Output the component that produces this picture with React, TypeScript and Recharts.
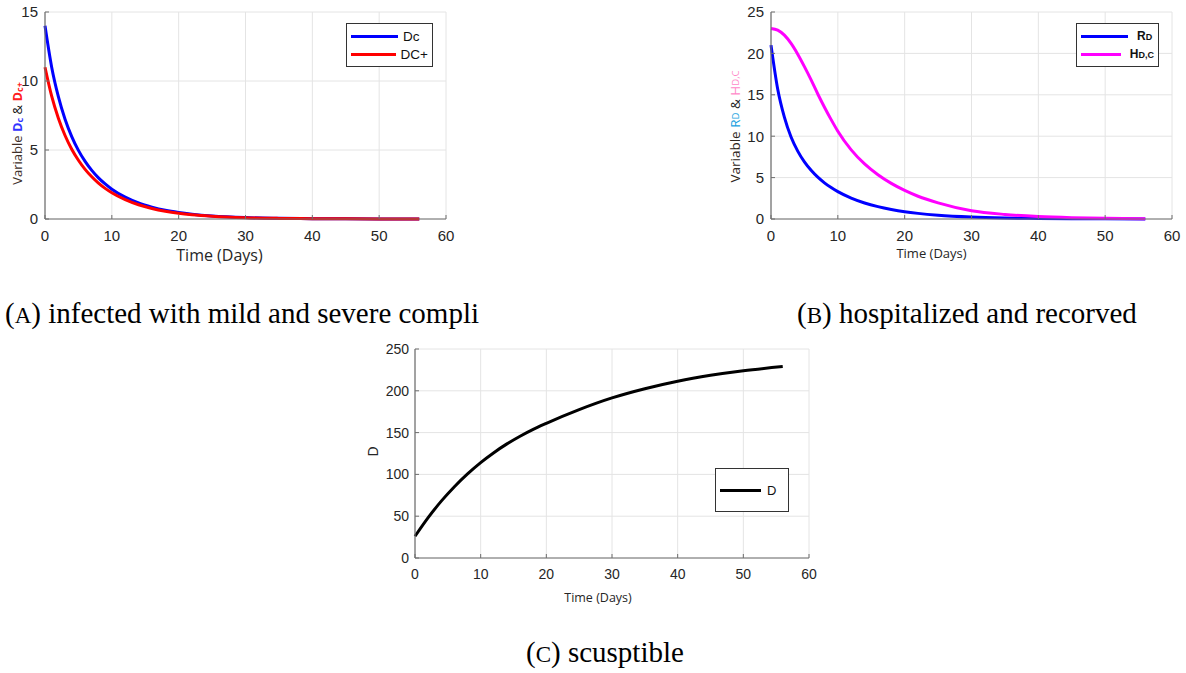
import React from 'react';
import { LineChart, Line, XAxis, YAxis, CartesianGrid, Legend } from 'recharts';

// time grid (days) shared by panels A and B
const TIME = [0, 1, 2, 3, 4, 5, 6, 7, 8, 9, 10, 12, 14, 16, 18, 20, 22, 25, 30, 35, 40, 45, 50, 56];
const DC = [14, 11.0, 8.86, 7.23, 5.97, 4.97, 4.17, 3.52, 2.98, 2.54, 2.16, 1.58, 1.16, 0.86, 0.63, 0.47, 0.35, 0.22, 0.1, 0.05, 0.023, 0.011, 0.005, 0.002];
const DC_PLUS = [11, 8.9, 7.3, 6.05, 5.06, 4.26, 3.6, 3.06, 2.6, 2.22, 1.9, 1.4, 1.03, 0.76, 0.56, 0.415, 0.31, 0.2, 0.093, 0.044, 0.021, 0.01, 0.005, 0.002];
const RD = [21, 15.7, 12.3, 9.9, 8.2, 6.9, 5.88, 5.05, 4.37, 3.79, 3.3, 2.52, 1.93, 1.49, 1.15, 0.88, 0.68, 0.46, 0.24, 0.125, 0.065, 0.034, 0.018, 0.008];
const HDC = [23, 22.8, 22.2, 21.2, 19.9, 18.4, 16.8, 15.1, 13.5, 12.0, 10.6, 8.35, 6.65, 5.35, 4.3, 3.45, 2.75, 1.95, 1.0, 0.55, 0.3, 0.16, 0.08, 0.04];

// panel C
const D_TIME = [0, 2, 4, 6, 8, 10, 12, 14, 16, 18, 20, 25, 30, 35, 40, 45, 50, 56];
const D_VALUES = [26, 48.3, 68, 85.3, 100.6, 114.1, 126, 136.5, 145.7, 153.9, 161.1, 177.5, 191.5, 202.5, 211.5, 218.5, 224, 229];

const X_TICKS = [0, 10, 20, 30, 40, 50, 60];
const A_Y_TICKS = [0, 5, 10, 15];
const B_Y_TICKS = [0, 5, 10, 15, 20, 25];
const C_Y_TICKS = [0, 50, 100, 150, 200, 250];

const LEGEND_ORDER = ['dc', 'dcPlus', 'rd', 'hdc', 'd'];

const dataA = TIME.map((t, i) => ({ t, dc: DC[i], dcPlus: DC_PLUS[i] }));
const dataB = TIME.map((t, i) => ({ t, rd: RD[i], hdc: HDC[i] }));
const dataC = D_TIME.map((t, i) => ({ t, d: D_VALUES[i] }));

const SANS = '"Liberation Sans", Arial, sans-serif';
const LABEL_FONT = '"Open Sans", "Liberation Sans", sans-serif';
const AXIS_COLOR = '#6e6e6e';
const GRID_COLOR = '#e4e4e4';

const legendLabels: Record<string, React.ReactNode> = {
  dc: 'Dc',
  dcPlus: 'DC+',
  rd: (
    <b>
      R<span style={{ fontSize: 9 }}>D</span>
    </b>
  ),
  hdc: (
    <b>
      H<span style={{ fontSize: 9 }}>D,C</span>
    </b>
  ),
  d: 'D',
};

function LegendBox(props: any) {
  const { payload = [], width, lineLen, textGap, fontSize } = props;
  const items = [...payload].sort(
    (a: any, b: any) => LEGEND_ORDER.indexOf(a.dataKey) - LEGEND_ORDER.indexOf(b.dataKey),
  );
  return (
    <div
      style={{
        boxSizing: 'border-box',
        width,
        border: '1px solid #333',
        background: '#fff',
        padding: '3px 4px',
        fontFamily: SANS,
        fontSize,
        color: '#111',
      }}
    >
      {items.map((entry: any) => (
        <div key={entry.dataKey} style={{ display: 'flex', alignItems: 'center', height: props.rowHeight }}>
          <div style={{ width: lineLen, height: 3, background: entry.color, marginRight: textGap }} />
          <span>{legendLabels[entry.dataKey] ?? entry.value}</span>
        </div>
      ))}
    </div>
  );
}

function XTitle(props: any) {
  const { viewBox, dx = 0, dy = 0, size = 13, text } = props;
  if (!viewBox) return null;
  return (
    <text
      x={viewBox.x + viewBox.width / 2 + dx}
      y={viewBox.y + dy}
      textAnchor="middle"
      fontFamily={LABEL_FONT}
      fontSize={size}
      fill="#262626"
    >
      {text}
    </text>
  );
}

function YTitleA(props: any) {
  const { viewBox } = props;
  if (!viewBox) return null;
  const cx = viewBox.x + 7;
  const cy = viewBox.y + viewBox.height / 2 + 18;
  return (
    <text
      x={cx}
      y={cy}
      transform={`rotate(-90, ${cx}, ${cy})`}
      textAnchor="middle"
      dominantBaseline="central"
      fontFamily={LABEL_FONT}
      fontSize={13}
    >
      <tspan fill="#40302a">Variable </tspan>
      <tspan fill="#3333ff" fontWeight="bold">D</tspan>
      <tspan fill="#3333ff" fontWeight="bold" fontSize={9} dy={2}>c</tspan>
      <tspan fill="#111" dy={-2}>{'  &  '}</tspan>
      <tspan fill="#ff2020" fontWeight="bold">D</tspan>
      <tspan fill="#ff2020" fontWeight="bold" fontSize={9} dy={2}>c+</tspan>
    </text>
  );
}

function YTitleB(props: any) {
  const { viewBox } = props;
  if (!viewBox) return null;
  const cx = viewBox.x;
  const cy = viewBox.y + viewBox.height / 2 + 11;
  return (
    <text
      x={cx}
      y={cy}
      transform={`rotate(-90, ${cx}, ${cy})`}
      textAnchor="middle"
      dominantBaseline="central"
      fontFamily={LABEL_FONT}
      fontSize={13.5}
    >
      <tspan fill="#2e2620">{'Variable  '}</tspan>
      <tspan fill="#1a9fe0">R</tspan>
      <tspan fill="#1a9fe0" fontSize={9.5}>D</tspan>
      <tspan fill="#222">{'  &  '}</tspan>
      <tspan fill="#ff88c8">H</tspan>
      <tspan fill="#ff88c8" fontSize={9.5}>D,C</tspan>
    </text>
  );
}

function YTitleC(props: any) {
  const { viewBox } = props;
  if (!viewBox) return null;
  const cx = viewBox.x + 3;
  const cy = viewBox.y + viewBox.height / 2 - 2;
  return (
    <text
      x={cx}
      y={cy}
      transform={`rotate(-90, ${cx}, ${cy})`}
      textAnchor="middle"
      dominantBaseline="central"
      fontFamily={SANS}
      fontSize={14}
      fill="#262626"
    >
      D
    </text>
  );
}

const captionStyle: React.CSSProperties = {
  position: 'absolute',
  fontFamily: '"Liberation Serif", "Times New Roman", serif',
  fontSize: 29,
  lineHeight: '29px',
  color: '#000',
  whiteSpace: 'nowrap',
};

function axisProps(fontSize: number) {
  return {
    tick: { fontSize, fill: '#262626', fontFamily: SANS },
    axisLine: { stroke: AXIS_COLOR, strokeWidth: 1.2 },
    tickLine: { stroke: AXIS_COLOR },
    tickSize: -4,
  };
}

export default function App() {
  return (
    <div
      style={{
        position: 'absolute',
        left: 0,
        top: 0,
        width: 1186,
        height: 673,
        background: '#fff',
        overflow: 'hidden',
      }}
    >
      {/* panel A */}
      <div style={{ position: 'absolute', left: 0, top: 0 }}>
        <LineChart width={460} height={280} data={dataA} margin={{ top: 12, right: 14, bottom: 21, left: 10 }}>
          <CartesianGrid stroke={GRID_COLOR} />
          <XAxis
            type="number"
            dataKey="t"
            domain={[0, 60]}
            ticks={X_TICKS}
            height={40}
            tickMargin={15}
            {...axisProps(15)}
            label={<XTitle dx={-26} dy={42} size={16} text="Time (Days)" />}
          />
          <YAxis
            type="number"
            domain={[0, 15]}
            ticks={A_Y_TICKS}
            width={35}
            tickMargin={11}
            {...axisProps(15)}
            label={<YTitleA />}
          />
          <Legend
            layout="vertical"
            align="center"
            verticalAlign="middle"
            wrapperStyle={{ left: 346, top: 23, width: 87 }}
            content={(p: any) => (
              <LegendBox payload={p.payload} width={87} lineLen={47} textGap={5} fontSize={13.5} rowHeight={18} />
            )}
          />
          <Line type="monotone" dataKey="dc" name="Dc" stroke="#0000ff" strokeWidth={3} dot={false} isAnimationActive={false} />
          <Line type="monotone" dataKey="dcPlus" name="DC+" stroke="#ff0000" strokeWidth={3} dot={false} isAnimationActive={false} />
        </LineChart>
      </div>

      {/* panel B */}
      <div style={{ position: 'absolute', left: 720, top: 0 }}>
        <LineChart width={466} height={280} data={dataB} margin={{ top: 12, right: 14, bottom: 21, left: 15 }}>
          <CartesianGrid stroke={GRID_COLOR} />
          <XAxis
            type="number"
            dataKey="t"
            domain={[0, 60]}
            ticks={X_TICKS}
            height={40}
            tickMargin={15}
            {...axisProps(15)}
            label={<XTitle dx={-40} dy={39} size={13} text="Time (Days)" />}
          />
          <YAxis
            type="number"
            domain={[0, 25]}
            ticks={B_Y_TICKS}
            width={36}
            tickMargin={11}
            {...axisProps(15)}
            label={<YTitleB />}
          />
          <Legend
            layout="vertical"
            align="center"
            verticalAlign="middle"
            wrapperStyle={{ left: 356, top: 23, width: 83 }}
            content={(p: any) => (
              <LegendBox payload={p.payload} width={83} lineLen={47} textGap={9} fontSize={12} rowHeight={18} />
            )}
          />
          <Line type="monotone" dataKey="rd" name="RD" stroke="#0000ff" strokeWidth={3} dot={false} isAnimationActive={false} />
          <Line type="monotone" dataKey="hdc" name="HD,C" stroke="#ff00ff" strokeWidth={3} dot={false} isAnimationActive={false} />
        </LineChart>
      </div>

      {/* panel C */}
      <div style={{ position: 'absolute', left: 350, top: 330 }}>
        <LineChart width={480} height={300} data={dataC} margin={{ top: 19, right: 21, bottom: 22, left: 20 }}>
          <CartesianGrid stroke={GRID_COLOR} />
          <XAxis
            type="number"
            dataKey="t"
            domain={[0, 60]}
            ticks={X_TICKS}
            height={50}
            tickMargin={15}
            {...axisProps(14)}
            label={<XTitle dx={-14} dy={44} size={12.5} text="Time (Days)" />}
          />
          <YAxis
            type="number"
            domain={[0, 250]}
            ticks={C_Y_TICKS}
            width={45}
            tickMargin={10}
            {...axisProps(14)}
            label={<YTitleC />}
          />
          <Legend
            layout="vertical"
            align="center"
            verticalAlign="middle"
            wrapperStyle={{ left: 365, top: 138, width: 74 }}
            content={(p: any) => (
              <LegendBox payload={p.payload} width={74} lineLen={41} textGap={6} fontSize={13} rowHeight={36} />
            )}
          />
          <Line type="monotone" dataKey="d" name="D" stroke="#000000" strokeWidth={3} dot={false} isAnimationActive={false} />
        </LineChart>
      </div>

      <div style={{ ...captionStyle, left: 5, top: 299 }}>
        (<span style={{ fontSize: 23 }}>A</span>) infected with mild and severe compli
      </div>
      <div style={{ ...captionStyle, left: 797, top: 299 }}>
        (<span style={{ fontSize: 23 }}>B</span>) hospitalized and recorved
      </div>
      <div style={{ ...captionStyle, left: 526, top: 638 }}>
        (<span style={{ fontSize: 23 }}>C</span>) scusptible
      </div>
    </div>
  );
}
